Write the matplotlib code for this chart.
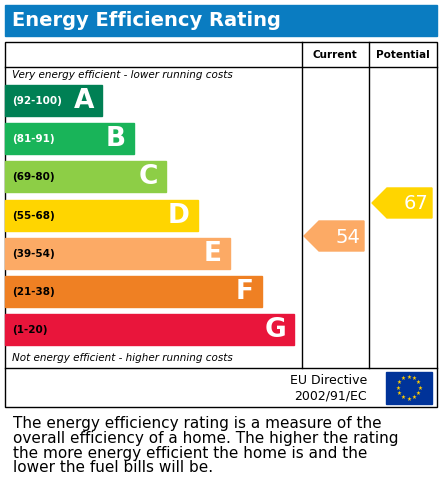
import matplotlib
matplotlib.use("Agg")
import matplotlib.pyplot as plt
from matplotlib.patches import Rectangle, Polygon

letters = ["A", "B", "C", "D", "E", "F", "G"]
ranges = ["(92-100)", "(81-91)", "(69-80)", "(55-68)", "(39-54)", "(21-38)", "(1-20)"]
colors = ["#008054", "#19b459", "#8dce46", "#ffd500", "#fcaa65", "#ef8023", "#e9153b"]
current = 54
potential = 67

W, H = 442, 486
fig = plt.figure(figsize=(W/100, H/100), dpi=100)
ax = fig.add_axes([0, 0, 1, 1])
ax.set_xlim(0, W); ax.set_ylim(H, 0); ax.axis("off")

ax.add_patch(Rectangle((5, 5), 432, 31, color="#0a7cc1"))
ax.text(12, 21, "Energy Efficiency Rating", color="white", fontsize=14, fontweight="bold", va="center")

lw = 1
ax.add_patch(Rectangle((5, 42), 432, 365, fill=False, ec="black", lw=lw))
ax.plot([302, 302], [42, 368], color="black", lw=lw)
ax.plot([369, 369], [42, 368], color="black", lw=lw)
ax.plot([5, 437], [67, 67], color="black", lw=lw)
ax.plot([5, 437], [368, 368], color="black", lw=lw)
ax.text(335, 55, "Current", fontsize=7.5, fontweight="bold", ha="center", va="center")
ax.text(403, 55, "Potential", fontsize=7.5, fontweight="bold", ha="center", va="center")
ax.text(12, 75, "Very energy efficient - lower running costs", fontsize=7.5, style="italic", va="center")
ax.text(12, 358, "Not energy efficient - higher running costs", fontsize=7.5, style="italic", va="center")

for i, (l, r, c) in enumerate(zip(letters, ranges, colors)):
    top = 85 + i * 38.2
    right = 102 + i * 32
    ax.add_patch(Rectangle((5, top), right - 5, 31, color=c))
    ax.text(12, top + 16, r, fontsize=7.5, fontweight="bold", va="center",
            color="white" if i in (0, 1) else "black")
    ax.text(right - 8, top + 16, l, fontsize=19, fontweight="bold", color="white",
            ha="right", va="center")

def band_color(v):
    for lo, c in zip([92, 81, 69, 55, 39, 21, 1], colors):
        if v >= lo:
            return c
    return colors[-1]

def arrow(v, x0, x1):
    yc = 236 + (54 - v) * 2.54
    h = 15
    pts = [(x0, yc), (x0 + 15, yc - h), (x1, yc - h), (x1, yc + h), (x0 + 15, yc + h)]
    ax.add_patch(Polygon(pts, closed=True, color=band_color(v)))
    ax.text(x1 - 4, yc + 1, str(v), fontsize=14, color="white", ha="right", va="center")

arrow(current, 304, 364)
arrow(potential, 372, 432)

ax.text(367, 380, "EU Directive", fontsize=9, ha="right", va="center")
ax.text(367, 396, "2002/91/EC", fontsize=9, ha="right", va="center")
ax.add_patch(Rectangle((386, 372), 46, 32, color="#003399"))
import numpy as np
for k in range(12):
    a = 2 * np.pi * k / 12
    ax.text(409 + 11 * np.cos(a), 388 + 11 * np.sin(a), "★", color="#ffcc00", fontsize=4,
            ha="center", va="center")

txt = ("The energy efficiency rating is a measure of the\noverall efficiency of a home. The higher the rating\n"
       "the more energy efficient the home is and the\nlower the fuel bills will be.")
ax.text(13, 416, txt, fontsize=11, va="top", linespacing=0.98)

fig.savefig("out.png", dpi=100)
